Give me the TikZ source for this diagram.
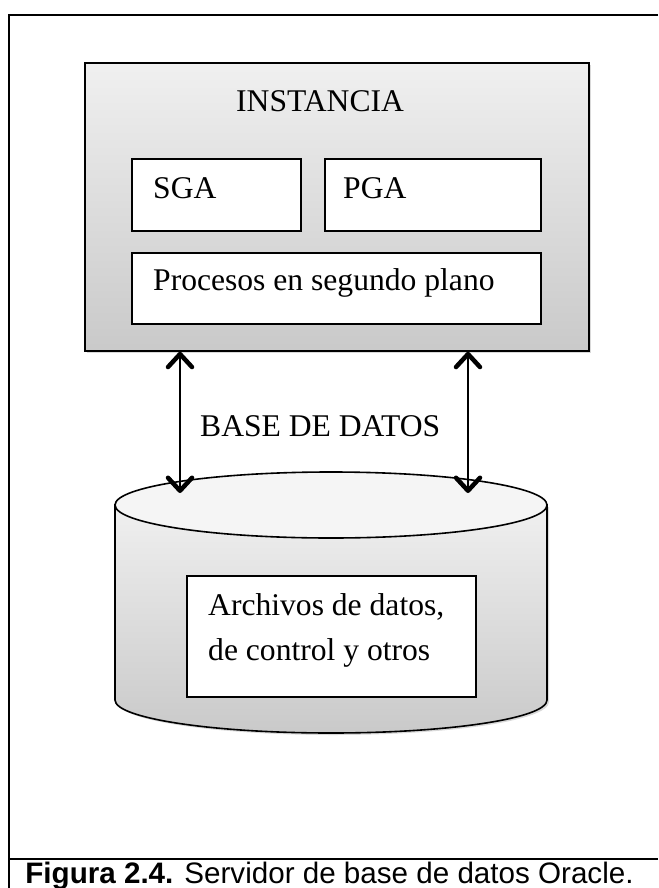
\documentclass[tikz,border=0pt]{standalone}
\usepackage{fontspec}
\setmainfont{Liberation Serif}
\newfontfamily\capfont{Liberation Sans}
\usetikzlibrary{arrows.meta,positioning,calc,shadows}

\begin{document}
\begin{tikzpicture}[x=1pt, y=-1pt,
    box/.style={draw, line width=1.6pt, fill=white, inner sep=0pt},
    instbox/.style={draw, line width=1.6pt, inner sep=0pt, top color=black!6, bottom color=black!21,
        drop shadow={shadow xshift=2pt, shadow yshift=-2pt, opacity=0.3}},
    lbl/.style={anchor=base west, inner sep=0pt, font=\fontsize{31.6}{45}\selectfont},
    dbarrow/.style={line width=1.8pt,
        {Straight Barb[length=13pt, width=24pt, line width'=4.5pt, round]}-{Straight Barb[length=13pt, width=24pt, line width'=4.5pt, round]}}]
    \useasboundingbox (0,0) rectangle (658,888);
    % Frame
    \draw [line width=2.6pt] (658,15) -- (9,15) -- (9,888);
    \draw [line width=2pt] (9,859) -- (658,859);

    % Instance
    \node [instbox, minimum width=504pt, minimum height=288pt] (inst) at (337,207) {};
    \node [box, minimum width=169pt, minimum height=72pt] (sga) at (216.5,195) {};
    \node [box, minimum width=216pt, minimum height=72pt] (pga) at (433,195) {};
    \node [box, minimum width=409pt, minimum height=71pt] (proc) at (336.5,288.5) {};

    % Database
    \draw [line width=1.6pt, top color=black!6, bottom color=black!21,
        drop shadow={shadow xshift=2pt, shadow yshift=-2pt, opacity=0.3}]
        (115,505) -- (115,700) arc [start angle=180, end angle=0, x radius=216, y radius=33]
        -- (547,505) -- cycle;
    \draw [line width=1.6pt, fill=black!4] (331,505) ellipse [x radius=216, y radius=33];
    \node [box, minimum width=289pt, minimum height=121pt] (arch) at (331.5,636.5) {};

    % Arrows
    \coordinate (db1) at (180,493);
    \coordinate (db2) at (468,493);
    \draw [dbarrow] (inst.south -| db1) -- (db1);
    \draw [dbarrow] (inst.south -| db2) -- (db2);

    % Labels
    \node [lbl] (instlbl) at (236,111) {INSTANCIA};
    \node [lbl] (sgalbl) at (153,198) {SGA};
    \node [lbl] (pgalbl) at (343,198) {PGA};
    \node [lbl] (proclbl) at (153,290) {Procesos en segundo plano};
    \node [lbl] (dblbl) at (200,436) {BASE DE DATOS};
    \node [lbl] (archlbl) at (208,615) {Archivos de datos,};
    \node [lbl] (archlblb) at (208,660) {de control y otros};
    \node [anchor=base, inner sep=0pt, font=\capfont\fontsize{29.6}{35}\selectfont] (caption) at (329.5,883)
        {\textbf{Figura 2.4.} Servidor de base de datos Oracle.};
\end{tikzpicture}
\end{document}
